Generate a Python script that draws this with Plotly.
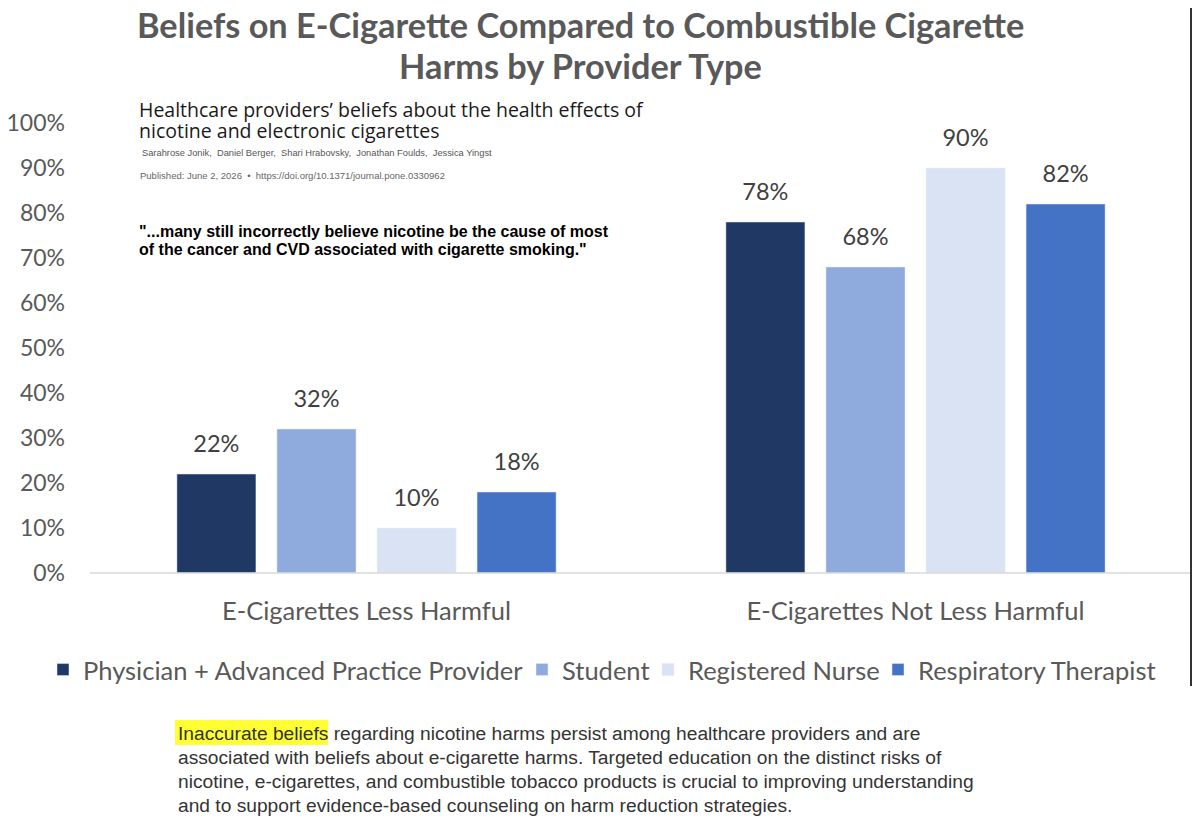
import plotly.graph_objects as go

categories = ["E-Cigarettes Less Harmful", "E-Cigarettes Not Less Harmful"]
series_names = ["Physician + Advanced Practice Provider", "Student", "Registered Nurse", "Respiratory Therapist"]
physician = [22, 78]
student = [32, 68]
nurse = [10, 90]
therapist = [18, 82]
colors = ["#203864", "#8FAADC", "#DAE3F3", "#4472C4"]
y_ticks = [0, 10, 20, 30, 40, 50, 60, 70, 80, 90, 100]
y_tick_labels = [f"{v}%" for v in y_ticks]

OFF = 8  # page body margin
W, H = 1200 - 2 * OFF, 834 - 2 * OFF
L, T = 92 - OFF, 123 - OFF
R = W - (1190 - OFF)
B = H - (573 - OFF)
PW, PH = W - L - R, H - T - B


def px(x):
    return (x - OFF - L) / PW


def py(y):
    return (H - B - (y - OFF)) / PH


CHART_FONT = "Lato"
GRAY = "#595959"
GAP = 0.271
legend_ids = ["legend", "legend2", "legend3", "legend4"]
legend_text_x = [83, 562, 688, 918]

fig = go.Figure()
for i, (name, vals, col) in enumerate(zip(series_names, [physician, student, nurse, therapist], colors)):
    fig.add_trace(go.Bar(
        x=categories, y=vals, name=name, marker_color=col,
        offsetgroup=str(i), alignmentgroup="a", legend=legend_ids[i],
    ))
for i, (name, vals) in enumerate(zip(series_names, [physician, student, nurse, therapist])):
    fig.add_trace(go.Scatter(
        x=categories, y=vals, mode="markers+text", text=[f"{v}%" for v in vals],
        textposition="top center", marker=dict(size=25, opacity=0), showlegend=False,
        offsetgroup=str(i), alignmentgroup="a", cliponaxis=False, hoverinfo="skip",
        textfont=dict(size=23.5, color="#404040", family=CHART_FONT),
    ))

annotations = [
    dict(text="<b>Beliefs on E-Cigarette Compared to Combustible Cigarette</b>", x=px(580), y=py(24),
         font=dict(size=34.3, color=GRAY, family=CHART_FONT)),
    dict(text="<b>Harms by Provider Type</b>", x=px(580), y=py(65),
         font=dict(size=34.3, color=GRAY, family=CHART_FONT)),
    dict(text="Healthcare providers\u2019 beliefs about the health effects of", x=px(137), y=py(110), xanchor="left",
         font=dict(size=19.5, color="#1a1a1a", family="Open Sans")),
    dict(text="nicotine and electronic cigarettes", x=px(137), y=py(130), xanchor="left",
         font=dict(size=19.5, color="#1a1a1a", family="Open Sans")),
    dict(text="Sarahrose Jonik,  Daniel Berger,  Shari Hrabovsky,  Jonathan Foulds,  Jessica Yingst", x=px(140), y=py(153),
         xanchor="left", font=dict(size=9.3, color="#555555", family="Liberation Sans")),
    dict(text="Published: June 2, 2026  \u2022  https://doi.org/10.1371/journal.pone.0330962", x=px(138), y=py(175),
         xanchor="left", font=dict(size=9.5, color="#666666", family="Liberation Sans")),
    dict(text="<b>\"...many still incorrectly believe nicotine be the cause of most</b>", x=px(137), y=py(231),
         xanchor="left", font=dict(size=16, color="#000000", family="Liberation Sans")),
    dict(text="<b>of the cancer and CVD associated with cigarette smoking.\"</b>", x=px(137), y=py(249),
         xanchor="left", font=dict(size=16, color="#000000", family="Liberation Sans")),
]
bottom_lines = [
    "Inaccurate beliefs regarding nicotine harms persist among healthcare providers and are",
    "associated with beliefs about e-cigarette harms. Targeted education on the distinct risks of",
    "nicotine, e-cigarettes, and combustible tobacco products is crucial to improving understanding",
    "and to support evidence-based counseling on harm reduction strategies.",
]
for i, line in enumerate(bottom_lines):
    annotations.append(dict(text=line, x=px(176), y=py(733 + 24.3 * i), xanchor="left",
                            font=dict(size=19.2, color="#333333", family="Liberation Sans")))
for a in annotations:
    a.update(xref="paper", yref="paper", showarrow=False, yanchor="middle")
    a.setdefault("xanchor", "center")

shapes = [
    dict(type="rect", xref="paper", yref="paper", x0=px(175), x1=px(328), y0=py(745), y1=py(720),
         fillcolor="#FFFF33", line_width=0, layer="below"),
    dict(type="line", xref="paper", yref="paper", x0=px(1191), x1=px(1191), y0=py(8), y1=py(686),
         line=dict(color="#333333", width=2)),
    dict(type="line", xref="paper", yref="paper", x0=px(90), x1=px(1190), y0=0, y1=0,
         line=dict(color="#D9D9D9", width=1.5)),
]

legend_layout = {}
for lid, tx in zip(legend_ids, legend_text_x):
    legend_layout[lid] = dict(orientation="h", x=px(tx - 40), xanchor="left", y=py(670), yanchor="middle",
                              font=dict(size=25.5, color=GRAY, family=CHART_FONT), itemwidth=30,
                              bgcolor="rgba(0,0,0,0)")

fig.update_layout(
    width=W, height=H,
    margin=dict(l=L, r=R, t=T, b=B, autoexpand=False),
    paper_bgcolor="white", plot_bgcolor="white",
    barmode="group", bargap=GAP, bargroupgap=0.21,
    scattermode="group", scattergap=GAP,
    font=dict(family=CHART_FONT, color=GRAY),
    showlegend=True,
    annotations=annotations,
    shapes=shapes,
    **legend_layout,
)
fig.update_yaxes(range=[0, 100], tickvals=y_ticks, ticktext=y_tick_labels, showgrid=False, zeroline=False,
                 showline=False, tickfont=dict(size=23, color=GRAY, family=CHART_FONT),
                 ticks="", ticklabelstandoff=26)
fig.update_xaxes(showline=False, showgrid=False, tickfont=dict(size=25.5, color=GRAY, family=CHART_FONT),
                 ticks="", ticklabelstandoff=20)

fig.write_html("out.html")
